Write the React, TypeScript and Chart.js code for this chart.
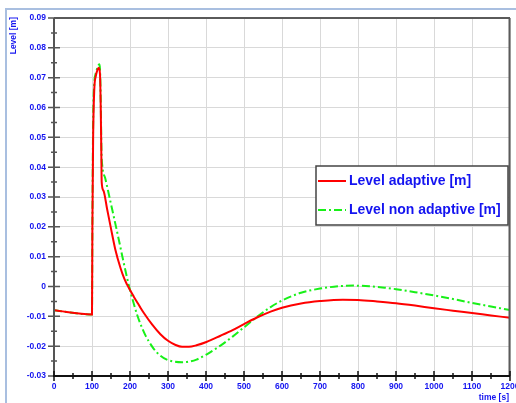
import React, { useEffect, useRef } from "react";
import { Chart, registerables } from "chart.js";

Chart.register(...registerables);

// ---- data ----
const timeAdaptive = [
  0, 100, 101, 103, 106, 110, 114, 118, 121, 123, 124.5, 125.5, 130, 140, 150, 161, 175, 185, 192,
  200, 210, 218, 227, 236, 258, 280, 300, 320, 337, 355, 375, 401, 438, 470, 500, 534, 570, 600,
  650, 700, 760, 800, 850, 900, 950, 1000, 1050, 1100, 1150, 1200,
];
const levelAdaptive = [
  -0.008, -0.0094, 0.02, 0.05, 0.066, 0.0705, 0.0725, 0.0733, 0.0712, 0.06, 0.045, 0.035, 0.0322,
  0.0258, 0.0194, 0.0126, 0.0062, 0.0026, 0.0007, -0.0012, -0.0034, -0.0051, -0.007, -0.0088,
  -0.0127, -0.016, -0.0182, -0.0196, -0.0202, -0.0202, -0.0197, -0.0186, -0.0165, -0.0146, -0.0126,
  -0.0104, -0.0084, -0.0071, -0.0057, -0.0049, -0.0044, -0.0045, -0.005, -0.0056, -0.0064, -0.0073,
  -0.0081, -0.0089, -0.0097, -0.0105,
];
const timeNonAdaptive = [
  0, 100, 101, 103, 106, 110, 115, 119, 121, 123, 125, 127, 135, 145, 157, 170, 180, 190, 200, 210,
  218, 227, 240, 262, 280, 297, 317, 337, 355, 375, 401, 438, 470, 500, 534, 570, 600, 650, 700, 750,
  790, 830, 870, 900, 950, 1000, 1050, 1100, 1150, 1200,
];
const levelNonAdaptive = [
  -0.008, -0.0094, 0.02, 0.055, 0.068, 0.0715, 0.0735, 0.0745, 0.073, 0.062, 0.045, 0.0405, 0.0362,
  0.0305, 0.0236, 0.016, 0.01, 0.0042, -0.0012, -0.0058, -0.0092, -0.0124, -0.0162, -0.0208, -0.0232,
  -0.0245, -0.0252, -0.0254, -0.0252, -0.0245, -0.0228, -0.0198, -0.0168, -0.0137, -0.0102, -0.0069,
  -0.0047, -0.0021, -0.0007, 0.0001, 0.0003, 0.0001, -0.0004, -0.0009, -0.0019, -0.003, -0.0042,
  -0.0055, -0.0067, -0.0079,
];
const xTicks = [0, 100, 200, 300, 400, 500, 600, 700, 800, 900, 1000, 1100, 1200];
const yTicks = [-0.03, -0.02, -0.01, 0, 0.01, 0.02, 0.03, 0.04, 0.05, 0.06, 0.07, 0.08, 0.09];
const seriesLabels = ["Level adaptive [m]", "Level non adaptive [m]"];
const xTitle = "time [s]";
const yTitle = "Level [m]";

const BLUE = "#1414f0";
const RED = "#ff0000";
const GREEN = "#18f018";
const GREEN_DASH = [8, 3, 2, 3];
const SMALL_FONT = "bold 8.5px 'Liberation Sans', Arial, sans-serif";
const LEGEND_FONT = "bold 14px 'Liberation Sans', Arial, sans-serif";

const fmtY = (v: number) => (Math.abs(v) < 1e-9 ? "0" : v.toFixed(2));

const decorPlugin = {
  id: "decor",
  afterDraw(chart: any) {
    const ctx: CanvasRenderingContext2D = chart.ctx;
    const { left, right, top, bottom } = chart.chartArea;
    const xs = chart.scales.x;
    const ys = chart.scales.y;
    ctx.save();

    // outer panel border (light blue)
    ctx.strokeStyle = "#a9bfe0";
    ctx.lineWidth = 2;
    ctx.beginPath();
    ctx.moveTo(5, 9);
    ctx.lineTo(516, 9);
    ctx.moveTo(6, 9);
    ctx.lineTo(6, 403);
    ctx.stroke();

    // frame top & right
    ctx.strokeStyle = "#5a5a5a";
    ctx.lineWidth = 2;
    ctx.beginPath();
    ctx.moveTo(left, top);
    ctx.lineTo(right, top);
    ctx.moveTo(right - 0.5, top);
    ctx.lineTo(right - 0.5, bottom);
    ctx.stroke();

    // y axis line & ticks
    ctx.strokeStyle = "#555555";
    ctx.lineWidth = 2;
    ctx.beginPath();
    ctx.moveTo(left, top);
    ctx.lineTo(left, bottom);
    ctx.stroke();
    ctx.lineWidth = 1.5;
    ctx.beginPath();
    for (let i = 0; i < yTicks.length; i++) {
      const py = ys.getPixelForValue(yTicks[i]);
      ctx.moveTo(left - 6, py);
      ctx.lineTo(left + 6, py);
      if (i < yTicks.length - 1) {
        const pm = ys.getPixelForValue((yTicks[i] + yTicks[i + 1]) / 2);
        ctx.moveTo(left - 3, pm);
        ctx.lineTo(left + 3, pm);
      }
    }
    ctx.stroke();

    // x axis line & ticks
    ctx.strokeStyle = "#111111";
    ctx.lineWidth = 2;
    ctx.beginPath();
    ctx.moveTo(left - 1, bottom);
    ctx.lineTo(right, bottom);
    ctx.stroke();
    ctx.lineWidth = 1.5;
    ctx.beginPath();
    for (let i = 0; i < xTicks.length; i++) {
      const px = xs.getPixelForValue(xTicks[i]);
      ctx.moveTo(px, bottom - 5);
      ctx.lineTo(px, bottom + 5);
      if (i < xTicks.length - 1) {
        const pm = xs.getPixelForValue((xTicks[i] + xTicks[i + 1]) / 2);
        ctx.moveTo(pm, bottom - 3);
        ctx.lineTo(pm, bottom + 3);
      }
    }
    ctx.stroke();

    // axis titles
    ctx.fillStyle = BLUE;
    ctx.font = SMALL_FONT;
    ctx.textBaseline = "middle";
    ctx.textAlign = "right";
    ctx.fillText(xTitle, right - 1, 398);
    ctx.save();
    ctx.translate(14, 17);
    ctx.rotate(-Math.PI / 2);
    ctx.textAlign = "right";
    ctx.fillText(yTitle, 0, 0);
    ctx.restore();

    // legend
    const lx = 316, ly = 166, lw = 192, lh = 59;
    ctx.fillStyle = "#ffffff";
    ctx.fillRect(lx, ly, lw, lh);
    ctx.strokeStyle = "#444444";
    ctx.lineWidth = 1.5;
    ctx.strokeRect(lx, ly, lw, lh);
    const rows = [
      { y: 181, color: RED, dash: [] as number[] },
      { y: 210, color: GREEN, dash: GREEN_DASH },
    ];
    rows.forEach((r, i) => {
      ctx.strokeStyle = r.color;
      ctx.lineWidth = 2;
      ctx.setLineDash(r.dash);
      ctx.beginPath();
      ctx.moveTo(318, r.y);
      ctx.lineTo(346, r.y);
      ctx.stroke();
      ctx.setLineDash([]);
      ctx.fillStyle = BLUE;
      ctx.font = LEGEND_FONT;
      ctx.textAlign = "left";
      ctx.textBaseline = "middle";
      ctx.fillText(seriesLabels[i], 349, r.y);
    });

    ctx.restore();
  },
};

export default function App() {
  const ref = useRef<HTMLCanvasElement>(null);

  useEffect(() => {
    document.body.style.margin = "0";
    const canvas = ref.current;
    if (!canvas) return;
    const chart = new Chart(canvas, {
      type: "line",
      data: {
        datasets: [
          {
            label: seriesLabels[0],
            data: timeAdaptive.map((t, i) => ({ x: t, y: levelAdaptive[i] })),
            borderColor: RED,
            borderWidth: 2,
            pointRadius: 0,
            cubicInterpolationMode: "monotone",
            fill: false,
          },
          {
            label: seriesLabels[1],
            data: timeNonAdaptive.map((t, i) => ({ x: t, y: levelNonAdaptive[i] })),
            borderColor: GREEN,
            borderWidth: 2,
            borderDash: GREEN_DASH,
            pointRadius: 0,
            cubicInterpolationMode: "monotone",
            fill: false,
          },
        ],
      },
      options: {
        responsive: false,
        animation: false,
        devicePixelRatio: 1,
        layout: { padding: { top: 18, right: 6, left: 0, bottom: 0 } },
        plugins: { legend: { display: false }, tooltip: { enabled: false } },
        scales: {
          x: {
            type: "linear",
            min: 0,
            max: 1200,
            afterBuildTicks: (s: any) => {
              s.ticks = xTicks.map((v) => ({ value: v }));
            },
            afterFit: (s: any) => {
              s.height = 27;
              s.paddingLeft = 0;
              s.paddingRight = 0;
            },
            grid: { color: "#d9d9d9", lineWidth: 1, drawTicks: false },
            border: { display: false },
            ticks: {
              autoSkip: false,
              maxRotation: 0,
              padding: 6,
              color: BLUE,
              font: { family: "'Liberation Sans', Arial, sans-serif", size: 8.5, weight: "bold" },
              callback: (v: any) => String(v),
            },
          },
          y: {
            type: "linear",
            min: -0.03,
            max: 0.09,
            afterBuildTicks: (s: any) => {
              s.ticks = yTicks.map((v) => ({ value: v }));
            },
            afterFit: (s: any) => {
              s.width = 54;
              s.paddingTop = 0;
              s.paddingBottom = 0;
            },
            grid: { color: "#d9d9d9", lineWidth: 1, drawTicks: false },
            border: { display: false },
            ticks: {
              autoSkip: false,
              padding: 8,
              color: BLUE,
              font: { family: "'Liberation Sans', Arial, sans-serif", size: 8.5, weight: "bold" },
              callback: (v: any) => fmtY(Number(v)),
            },
          },
        },
      },
      plugins: [decorPlugin],
    } as any);
    return () => chart.destroy();
  }, []);

  return (
    <div style={{ position: "absolute", left: 0, top: 0, width: 516, height: 403, background: "#ffffff" }}>
      <canvas ref={ref} width={516} height={403} style={{ display: "block" }} />
    </div>
  );
}
